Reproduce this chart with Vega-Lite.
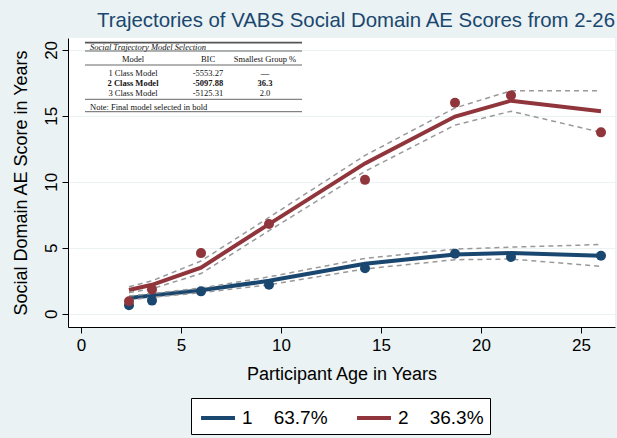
{
  "$schema": "https://vega.github.io/schema/vega-lite/v6.json",
  "width": 547,
  "height": 289,
  "autosize": {"type": "none"},
  "padding": {"left": 68, "top": 38, "right": 2, "bottom": 111},
  "background": "#eaf2f3",
  "title": {
    "text": "Trajectories of VABS Social Domain AE Scores from 2-26",
    "anchor": "end",
    "font": "Liberation Sans",
    "fontSize": 20.4,
    "fontWeight": "normal",
    "color": "#1a476f",
    "baseline": "alphabetic",
    "offset": 12,
    "dy": 21
  },
  "datasets": {
    "traj": [
      {"age": 2.4, "class": "1", "obs": 0.65, "fit": 1.2, "lo": 1.05, "hi": 1.35},
      {"age": 3.55, "class": "1", "obs": 1.0, "fit": 1.38, "lo": 1.25, "hi": 1.55},
      {"age": 6.0, "class": "1", "obs": 1.7, "fit": 1.78, "lo": 1.6, "hi": 1.95},
      {"age": 9.4, "class": "1", "obs": 2.2, "fit": 2.5, "lo": 2.2, "hi": 2.8},
      {"age": 14.2, "class": "1", "obs": 3.45, "fit": 3.8, "lo": 3.4, "hi": 4.2},
      {"age": 18.7, "class": "1", "obs": 4.55, "fit": 4.5, "lo": 4.1, "hi": 4.9},
      {"age": 21.5, "class": "1", "obs": 4.3, "fit": 4.6, "lo": 4.15, "hi": 5.05},
      {"age": 26.0, "class": "1", "obs": 4.4, "fit": 4.4, "lo": 3.6, "hi": 5.25},
      {"age": 2.4, "class": "2", "obs": 0.95, "fit": 1.8, "lo": 1.6, "hi": 2.05},
      {"age": 3.55, "class": "2", "obs": 1.85, "fit": 2.2, "lo": 1.9, "hi": 2.5},
      {"age": 6.0, "class": "2", "obs": 4.6, "fit": 3.5, "lo": 3.05, "hi": 4.0},
      {"age": 9.4, "class": "2", "obs": 6.8, "fit": 6.8, "lo": 6.3, "hi": 7.3},
      {"age": 14.2, "class": "2", "obs": 10.15, "fit": 11.4, "lo": 10.8, "hi": 12.0},
      {"age": 18.7, "class": "2", "obs": 16.0, "fit": 14.95, "lo": 14.3, "hi": 15.6},
      {"age": 21.5, "class": "2", "obs": 16.55, "fit": 16.15, "lo": 15.35, "hi": 16.9},
      {"age": 26.0, "class": "2", "obs": 13.75, "fit": 15.35, "lo": 13.75, "hi": 16.9}
    ],
    "tablecells": [
      {"row": 1, "col": 1, "text": "Model"},
      {"row": 1, "col": 2, "text": "BIC"},
      {"row": 1, "col": 3, "text": "Smallest Group %"},
      {"row": 2, "col": 1, "text": "1 Class Model"},
      {"row": 2, "col": 2, "text": "-5553.27"},
      {"row": 2, "col": 3, "text": "—"},
      {"row": 3, "col": 1, "text": "2 Class Model"},
      {"row": 3, "col": 2, "text": "-5097.88"},
      {"row": 3, "col": 3, "text": "36.3"},
      {"row": 4, "col": 1, "text": "3 Class Model"},
      {"row": 4, "col": 2, "text": "-5125.31"},
      {"row": 4, "col": 3, "text": "2.0"}
    ],
    "tablenotes": [
      {"row": 0, "text": "Social Trajectory Model Selection"},
      {"row": 5, "text": "Note: Final model selected in bold"}
    ],
    "tablelines": [
      {"row": -0.5},
      {"row": 0.5},
      {"row": 1.5},
      {"row": 4.5},
      {"row": 5.5}
    ]
  },
  "layer": [
    {
      "data": {"name": "traj"},
      "encoding": {
        "x": {
          "field": "age",
          "type": "quantitative",
          "scale": {"domain": [-0.65, 26.7], "nice": false, "zero": false},
          "axis": {"values": [0, 5, 10, 15, 20, 25], "title": "Participant Age in Years", "labelPadding": 4, "titlePadding": 12}
        }
      },
      "layer": [
        {
          "mark": {"type": "line", "strokeWidth": 4},
          "encoding": {
            "y": {
              "field": "fit",
              "type": "quantitative",
              "scale": {"domain": [-1, 20.9], "nice": false, "zero": false},
              "axis": {"values": [0, 5, 10, 15, 20], "title": "Social Domain AE Score in Years", "labelAngle": -90, "labelPadding": 2, "titlePadding": 12, "grid": true}
            },
            "color": {
              "field": "class",
              "type": "nominal",
              "scale": {"domain": ["1", "2"], "range": ["#1a476f", "#90353b"]},
              "legend": {
                "orient": "none",
                "legendX": 123,
                "legendY": 360,
                "direction": "horizontal",
                "title": null,
                "symbolType": "M-0.83,0L2,0",
                "symbolSize": 576,
                "symbolStrokeWidth": 4,
                "labelExpr": "datum.label == '1' ? '1\u00a0\u00a0\u00a0\u00a063.7%\u00a0' : '2\u00a0\u00a0\u00a0\u00a036.3%\u00a0'"
              }
            }
          }
        },
        {
          "mark": {"type": "line", "strokeWidth": 1.5, "strokeDash": [5, 4], "color": "#999999"},
          "encoding": {
            "y": {"field": "hi", "type": "quantitative", "scale": {"domain": [-1, 20.9], "nice": false, "zero": false}, "title": "Social Domain AE Score in Years"},
            "detail": {"field": "class"}
          }
        },
        {
          "mark": {"type": "line", "strokeWidth": 1.5, "strokeDash": [5, 4], "color": "#999999"},
          "encoding": {
            "y": {"field": "lo", "type": "quantitative", "scale": {"domain": [-1, 20.9], "nice": false, "zero": false}, "title": "Social Domain AE Score in Years"},
            "detail": {"field": "class"}
          }
        },
        {
          "mark": {"type": "circle", "size": 100, "opacity": 1},
          "encoding": {
            "y": {"field": "obs", "type": "quantitative", "scale": {"domain": [-1, 20.9], "nice": false, "zero": false}, "title": "Social Domain AE Score in Years"},
            "color": {"field": "class", "type": "nominal", "scale": {"domain": ["1", "2"], "range": ["#1a476f", "#90353b"]}}
          }
        }
      ]
    },
    {
      "encoding": {
        "y": {"field": "row", "type": "quantitative", "scale": {"domain": [-0.5, 0, 0.5, 1, 1.5, 2, 3, 4, 4.5, 5, 5.5], "range": [4.7, 8.7, 13, 21.3, 27, 35.3, 45.3, 55.3, 61.3, 68.7, 73.7]}, "axis": null}
      },
      "layer": [
        {
          "data": {"name": "tablelines"},
          "mark": {"type": "rule", "color": "#555555"},
          "encoding": {
            "x": {"datum": -1, "type": "quantitative", "scale": {"domain": [-1, 0, 1, 2, 3, 4], "range": [17, 22, 65, 140, 197, 234]}, "axis": null},
            "x2": {"datum": 4},
            "strokeWidth": {"condition": {"test": "datum.row == -0.5", "value": 1.8}, "value": 0.9}
          }
        },
        {
          "data": {"name": "tablecells"},
          "transform": [{"filter": "datum.row != 3"}],
          "mark": {"type": "text", "font": "Liberation Serif", "fontSize": 8.5, "align": "center", "baseline": "middle", "color": "#111111"},
          "encoding": {
            "x": {"field": "col", "type": "quantitative", "scale": {"domain": [-1, 0, 1, 2, 3, 4], "range": [17, 22, 65, 140, 197, 234]}, "axis": null},
            "text": {"field": "text"}
          }
        },
        {
          "data": {"name": "tablecells"},
          "transform": [{"filter": "datum.row == 3"}],
          "mark": {"type": "text", "font": "Liberation Serif", "fontSize": 8.5, "fontWeight": "bold", "align": "center", "baseline": "middle", "color": "#111111"},
          "encoding": {
            "x": {"field": "col", "type": "quantitative", "scale": {"domain": [-1, 0, 1, 2, 3, 4], "range": [17, 22, 65, 140, 197, 234]}, "axis": null},
            "text": {"field": "text"}
          }
        },
        {
          "data": {"name": "tablenotes"},
          "transform": [{"filter": "datum.row == 0"}],
          "mark": {"type": "text", "font": "Liberation Serif", "fontSize": 8.5, "fontStyle": "italic", "align": "left", "baseline": "middle", "color": "#111111"},
          "encoding": {
            "x": {"datum": 0, "type": "quantitative", "scale": {"domain": [-1, 0, 1, 2, 3, 4], "range": [17, 22, 65, 140, 197, 234]}, "axis": null},
            "text": {"field": "text"}
          }
        },
        {
          "data": {"name": "tablenotes"},
          "transform": [{"filter": "datum.row == 5"}],
          "mark": {"type": "text", "font": "Liberation Serif", "fontSize": 8.5, "align": "left", "baseline": "middle", "color": "#111111"},
          "encoding": {
            "x": {"datum": 0, "type": "quantitative", "scale": {"domain": [-1, 0, 1, 2, 3, 4], "range": [17, 22, 65, 140, 197, 234]}, "axis": null},
            "text": {"field": "text"}
          }
        }
      ]
    }
  ],
  "resolve": {"scale": {"x": "independent", "y": "independent", "color": "independent"}},
  "config": {
    "view": {"fill": "white", "stroke": null},
    "axis": {
      "domainColor": "black",
      "domainWidth": 1,
      "tickColor": "black",
      "tickSize": 6,
      "labelFont": "Liberation Sans",
      "labelFontSize": 17,
      "labelColor": "black",
      "titleFont": "Liberation Sans",
      "titleFontSize": 18,
      "titleFontWeight": "normal",
      "titleColor": "black",
      "gridColor": "#eaf2f3",
      "gridWidth": 1.2,
      "grid": false
    },
    "legend": {
      "strokeColor": "black",
      "fillColor": "white",
      "padding": 6,
      "labelFont": "Liberation Sans",
      "labelFontSize": 19,
      "labelColor": "black",
      "labelOffset": 17,
      "columnPadding": 21,
      "cornerRadius": 0
    }
  }
}
